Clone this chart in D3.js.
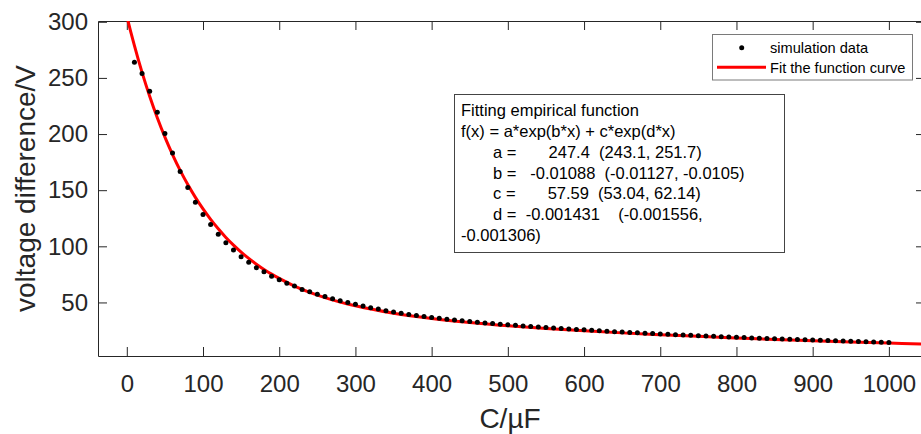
<!DOCTYPE html>
<html><head><meta charset="utf-8">
<script src="https://cdn.jsdelivr.net/npm/d3@7"></script>
<style>
html,body{margin:0;padding:0;background:#fff;overflow:hidden}
svg{display:block}
text{font-family:"Liberation Sans",Arial,Helvetica,sans-serif}
</style>
</head><body>
<svg id="chart" width="921" height="434"></svg>
<script>
// ---------- data ----------
const capacitance = [10,20,30,40,50,60,70,80,90,100,110,120,130,140,150,160,170,180,190,200,
  210,220,230,240,250,260,270,280,290,300,310,320,330,340,350,360,370,380,390,400,
  410,420,430,440,450,460,470,480,490,500,510,520,530,540,550,560,570,580,590,600,
  610,620,630,640,650,660,670,680,690,700,710,720,730,740,750,760,770,780,790,800,
  810,820,830,840,850,860,870,880,890,900,910,920,930,940,950,960,970,980,990,1000];
const voltage = [264.0,253.9,238.2,219.5,200.5,183.1,166.7,152.5,139.3,128.4,
  119.4,110.8,103.1,96.7,90.8,85.7,80.9,77.3,73.4,70.2,
  67.2,64.6,61.6,59.5,57.4,55.4,53.3,51.5,50.0,48.5,
  46.8,45.3,44.1,42.6,41.4,40.3,39.3,38.4,37.5,36.7,
  35.9,35.1,34.4,33.7,33.0,32.4,31.8,31.2,30.6,30.1,
  29.6,29.1,28.6,28.1,27.7,27.2,26.8,26.4,26.0,25.6,
  25.2,24.8,24.4,24.0,23.7,23.3,23.0,22.6,22.3,22.0,
  21.6,21.3,21.0,20.7,20.4,20.1,19.8,19.5,19.2,19.0,
  18.7,18.4,18.2,17.9,17.7,17.4,17.2,17.0,16.7,16.5,
  16.3,16.1,15.8,15.6,15.4,15.2,15.0,14.8,14.6,14.4];
const fitCapacitance = [0,5,10,15,20,25,30,40,50,60,70,80,90,100,110,120,130,140,150,160,170,180,190,200,
  220,240,260,280,300,350,400,450,500,550,600,650,700,750,800,850,900,950,1000,1050];
const fitVoltage = [305.0,291.5,278.7,266.5,255.0,244.0,233.7,214.5,197.2,181.7,167.6,155.0,143.6,133.3,
  124.0,115.6,107.9,101.1,94.9,89.2,84.1,79.4,75.2,71.4,
  64.6,59.0,54.3,50.3,47.0,40.4,35.7,32.1,29.2,26.8,24.8,22.9,21.3,19.8,18.4,17.1,15.9,14.8,13.8,12.8];
const xTicks = [0,100,200,300,400,500,600,700,800,900,1000];
const yTicks = [50,100,150,200,250,300];
const legendLabels = ["simulation data", "Fit the function curve"];
const fitTextLines = [
  "Fitting empirical function",
  "f(x) = a*exp(b*x) + c*exp(d*x)",
  "       a =       247.4  (243.1, 251.7)",
  "       b =   -0.01088  (-0.01127, -0.0105)",
  "       c =       57.59  (53.04, 62.14)",
  "       d =  -0.001431    (-0.001556,",
  "-0.001306)"
];
const xLabel = "C/\u00b5F";
const yLabel = "voltage difference/V";

// ---------- drawing ----------
const svg = d3.select("#chart");
const axisColor = "#262626";
const plotL = 98, plotR = 925, plotT = 21, plotB = 356;
const x = d3.scaleLinear().domain([-37.8, 1047.4]).range([plotL, plotR]);
const y = d3.scaleLinear().domain([2.3, 300.7]).range([plotB, plotT]);
const fmt = d3.format("d");

svg.append("defs").append("clipPath").attr("id","plotClip")
  .append("rect").attr("x", plotL).attr("y", plotT).attr("width", plotR - plotL).attr("height", plotB - plotT);

function styleAxis(g, fs) {
  g.attr("font-size", null).attr("font-family", null);
  g.selectAll("path.domain").attr("stroke", axisColor).attr("stroke-width", 1);
  g.selectAll(".tick line").attr("stroke", axisColor).attr("stroke-width", 1);
  g.selectAll(".tick text").attr("fill", axisColor).style("font-size", fs + "px");
}

svg.append("g").attr("transform", `translate(0,${plotB})`)
  .call(d3.axisBottom(x).tickValues(xTicks).tickFormat(fmt).tickSizeInner(-9).tickSizeOuter(0).tickPadding(18.5))
  .call(g => styleAxis(g, 24));
svg.append("g").attr("transform", `translate(0,${plotT})`)
  .call(d3.axisTop(x).tickValues(xTicks).tickSizeInner(-9).tickSizeOuter(0).tickFormat(() => ""))
  .call(g => styleAxis(g, 24));
svg.append("g").attr("transform", `translate(${plotL},0)`)
  .call(d3.axisLeft(y).tickValues(yTicks).tickFormat(fmt).tickSizeInner(-9).tickSizeOuter(0).tickPadding(10))
  .call(g => styleAxis(g, 24));
svg.append("g").attr("transform", `translate(${plotR},0)`)
  .call(d3.axisRight(y).tickValues(yTicks).tickSizeInner(-9).tickSizeOuter(0).tickFormat(() => ""))
  .call(g => styleAxis(g, 24));

// axis labels
svg.append("text").attr("x", 510).attr("y", 428).attr("text-anchor", "middle")
  .attr("fill", axisColor).style("font-size", "28px").text(xLabel);
svg.append("text").attr("transform", `translate(35,${(plotT + plotB) / 2}) rotate(-90)`)
  .attr("text-anchor", "middle").attr("fill", axisColor).style("font-size", "28px").text(yLabel);

// fitted curve
const fitPts = fitCapacitance.map((c, i) => [c, fitVoltage[i]]);
svg.append("path").datum(fitPts)
  .attr("clip-path", "url(#plotClip)")
  .attr("fill", "none").attr("stroke", "#ff0000").attr("stroke-width", 3)
  .attr("d", d3.line().x(d => x(d[0])).y(d => y(d[1])).curve(d3.curveMonotoneX));

// simulation data
svg.append("g").selectAll("circle").data(capacitance.map((c, i) => [c, voltage[i]]))
  .join("circle").attr("cx", d => x(d[0])).attr("cy", d => y(d[1])).attr("r", 2.5).attr("fill", "#000");

// legend
const lg = svg.append("g");
lg.append("rect").attr("x", 712.5).attr("y", 34.5).attr("width", 200).attr("height", 45.5)
  .attr("fill", "#fff").attr("stroke", "#7a7a7a").attr("stroke-width", 1);
lg.append("circle").attr("cx", 741.7).attr("cy", 47.7).attr("r", 2.5).attr("fill", "#000");
lg.append("line").attr("x1", 717).attr("x2", 766).attr("y1", 67.3).attr("y2", 67.3)
  .attr("stroke", "#ff0000").attr("stroke-width", 3);
legendLabels.forEach((t, i) => {
  lg.append("text").attr("x", 770).attr("y", 52.7 + i * 20).attr("fill", "#000")
    .style("font-size", "14.6px").text(t);
});

// fit result text box
const tb = svg.append("g");
tb.append("rect").attr("x", 454.5).attr("y", 94.5).attr("width", 330).attr("height", 158)
  .attr("fill", "#fff").attr("stroke", "#444").attr("stroke-width", 1);
fitTextLines.forEach((t, i) => {
  tb.append("text").attr("x", 461).attr("y", 116.2 + i * 20.8).attr("fill", "#000")
    .attr("xml:space", "preserve").style("white-space", "pre").style("font-size", "16.5px").text(t);
});
</script>
</body></html>
